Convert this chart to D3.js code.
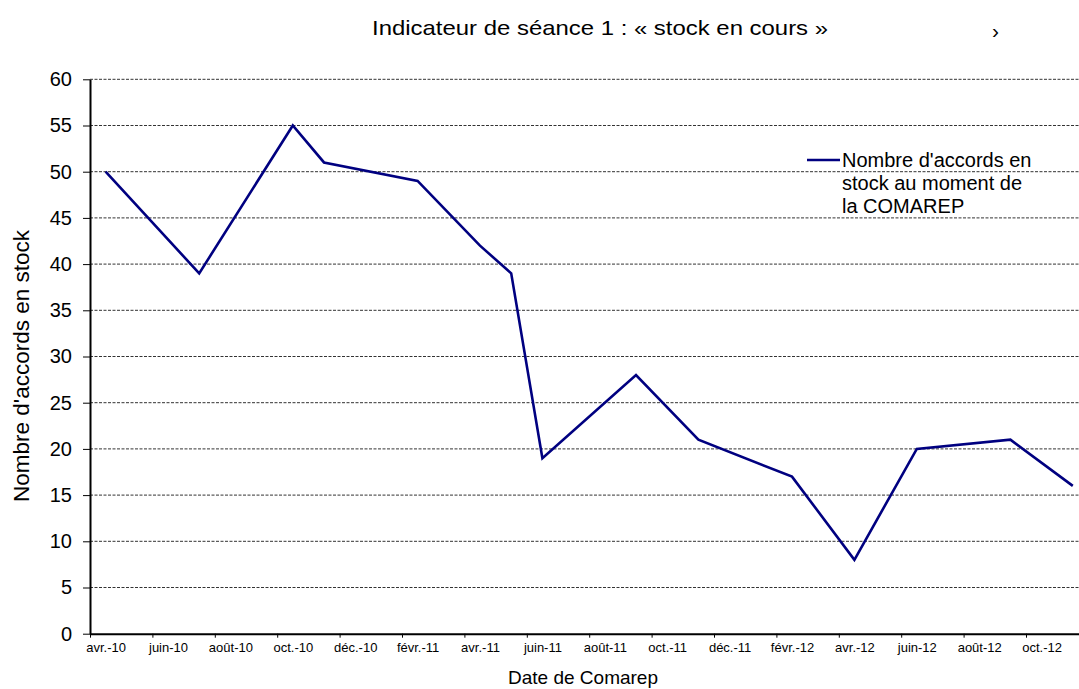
<!DOCTYPE html>
<html>
<head>
<meta charset="utf-8">
<script src="https://cdn.jsdelivr.net/npm/d3@7"></script>
<style>
  html, body { margin: 0; padding: 0; background: #fff; }
  svg { display: block; font-family: "Liberation Sans", Arial, sans-serif; }
</style>
</head>
<body>
<svg id="chart" width="1079" height="689"></svg>
<script>
// ---- data ----
const months = ["2010-04","2010-07","2010-10","2010-11","2011-02","2011-04","2011-05","2011-06","2011-09","2011-11","2012-02","2012-04","2012-06","2012-09","2012-11"];
const stock = [50, 39, 55, 51, 49, 42, 39, 19, 28, 21, 17, 8, 20, 21, 16];
const tickLabels = ["avr.-10","juin-10","août-10","oct.-10","déc.-10","févr.-11","avr.-11","juin-11","août-11","oct.-11","déc.-11","févr.-12","avr.-12","juin-12","août-12","oct.-12"];
const yTicks = [0, 5, 10, 15, 20, 25, 30, 35, 40, 45, 50, 55, 60];
const title = "Indicateur de séance 1 : « stock en cours »";
const xTitle = "Date de Comarep";
const yTitle = "Nombre d'accords en stock";
const legendLines = ["Nombre d'accords en", "stock au moment de", "la COMAREP"];

(function () {
// month index relative to avr. 2010
const monthIndex = s => { const [yy, mm] = s.split("-").map(Number); return (yy - 2010) * 12 + (mm - 4); };
const data = months.map((m, i) => ({ m: monthIndex(m) + 0.5, v: stock[i] }));

const svg = d3.select("#chart");
const W = 1079, H = 689;
const pLeft = 90, pTop = 79.3, pBottom = 633.7, monthW = 31.2;

const x = d3.scaleLinear().domain([0, 32]).range([pLeft, pLeft + 32 * monthW]);
const y = d3.scaleLinear().domain([0, 60]).range([pBottom, pTop]);

svg.append("rect").attr("width", W).attr("height", H).attr("fill", "#fff");

svg.append("clipPath").attr("id", "clip")
  .append("rect").attr("x", pLeft).attr("y", 0).attr("width", W - pLeft).attr("height", H);

// gridlines
svg.append("g").attr("clip-path", "url(#clip)")
  .selectAll("line").data(yTicks.filter(d => d > 0)).join("line")
  .attr("x1", pLeft).attr("x2", x(32))
  .attr("y1", d => y(d)).attr("y2", d => y(d))
  .attr("stroke", "#333").attr("stroke-width", 1).attr("stroke-dasharray", "3,1.5");

// line
svg.append("g").attr("clip-path", "url(#clip)")
  .append("path").datum(data)
  .attr("d", d3.line().x(d => x(d.m)).y(d => y(d.v)))
  .attr("fill", "none").attr("stroke", "#000080").attr("stroke-width", 2.6)
  .attr("stroke-linejoin", "miter");

// x axis
const xAxis = d3.axisBottom(x)
  .tickValues(d3.range(0, 31, 2))
  .tickFormat((d, i) => tickLabels[i])
  .tickSize(4).tickSizeOuter(0);
const gx = svg.append("g").attr("transform", `translate(0,${pBottom})`).call(xAxis);
gx.select(".domain").attr("stroke", "#000").attr("stroke-width", 2);
gx.selectAll(".tick line").attr("stroke", "#000").attr("stroke-width", 1);
gx.selectAll(".tick text")
  .attr("x", monthW / 2).attr("y", 9).attr("dy", "0.71em")
  .attr("font-size", 13).attr("font-family", "Liberation Sans, Arial, sans-serif").attr("fill", "#000");

// y axis
const yAxis = d3.axisLeft(y).tickValues(yTicks).tickSize(7).tickSizeOuter(0).tickPadding(11);
const gy = svg.append("g").attr("transform", `translate(${pLeft},0)`).call(yAxis);
gy.select(".domain").attr("stroke", "#000").attr("stroke-width", 2);
gy.selectAll(".tick line").attr("stroke", "#000").attr("stroke-width", 1);
gy.selectAll(".tick text")
  .attr("font-size", 20).attr("font-family", "Liberation Sans, Arial, sans-serif").attr("fill", "#000");

// titles
svg.append("text").attr("x", 372).attr("y", 35).attr("font-size", 21)
  .attr("textLength", 456).attr("lengthAdjust", "spacingAndGlyphs")
  .attr("fill", "#000").text(title);
svg.append("text").attr("x", 992).attr("y", 38).attr("font-size", 21).attr("fill", "#000").text("›");
svg.append("text").attr("x", 583).attr("y", 684).attr("text-anchor", "middle").attr("font-size", 19).attr("fill", "#000").text(xTitle);
svg.append("text").attr("transform", "translate(29,366) rotate(-90)").attr("text-anchor", "middle")
  .attr("font-size", 22.5).attr("fill", "#000").text(yTitle);

// legend
svg.append("line").attr("x1", 807).attr("x2", 840).attr("y1", 160).attr("y2", 160)
  .attr("stroke", "#000080").attr("stroke-width", 2.6);
svg.append("g").selectAll("text").data(legendLines).join("text")
  .attr("x", 842).attr("y", (d, i) => 167 + i * 23)
  .attr("font-size", 20).attr("fill", "#000").text(d => d);
})();
</script>
</body>
</html>
